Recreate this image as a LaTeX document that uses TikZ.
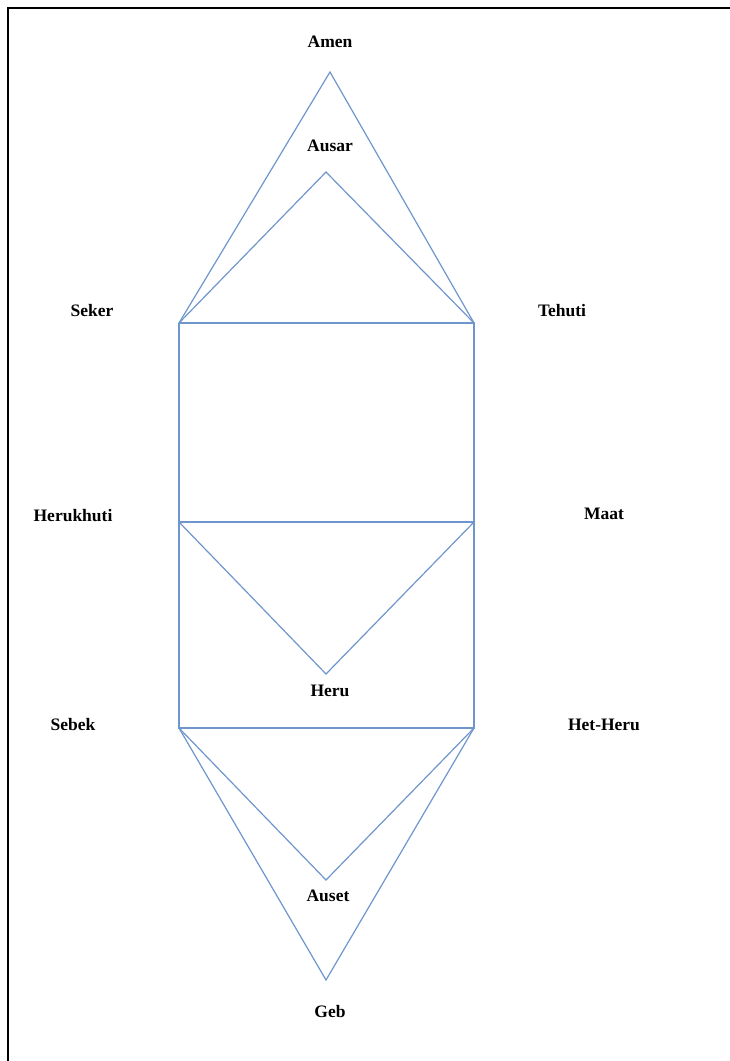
\documentclass[tikz,border=0pt]{standalone}
\usepackage{fontspec}
\setmainfont{Liberation Serif}
\begin{document}
\begin{tikzpicture}[x=1pt,y=-1pt,
  lbl/.style={font=\fontsize{17.5}{20}\selectfont\bfseries, inner sep=0pt},
  edge/.style={draw={rgb,255:red,110;green,150;blue,205}, line width=1.2pt}]
\useasboundingbox (0,0) rectangle (730,1061);
\draw[line width=2.4pt] (8,1061) -- (8,8) -- (730,8);
% corner points
\coordinate (amenP) at (330,72);
\coordinate (ausarP) at (326,172);
\coordinate (sekerP) at (179,323);
\coordinate (tehutiP) at (474,323);
\coordinate (herukhutiP) at (179,522);
\coordinate (maatP) at (474,522);
\coordinate (heruP) at (326,674);
\coordinate (sebekP) at (179,728);
\coordinate (hetheruP) at (474,728);
\coordinate (ausetP) at (326,880);
\coordinate (gebP) at (326,980);
% labels
\node[lbl] (amen) at (330,42) {Amen};
\node[lbl] (ausar) at (330,146) {Ausar};
\node[lbl] (seker) at (92,311) {Seker};
\node[lbl] (tehuti) at (562,311) {Tehuti};
\node[lbl] (herukhuti) at (73,516) {Herukhuti};
\node[lbl] (maat) at (604,514) {Maat};
\node[lbl] (heru) at (330,691) {Heru};
\node[lbl] (sebek) at (73,725) {Sebek};
\node[lbl] (hetheru) at (604,725) {Het-Heru};
\node[lbl] (auset) at (328,896) {Auset};
\node[lbl] (geb) at (330,1012) {Geb};
% edges
\draw[edge] (sekerP) -- (amenP) -- (tehutiP);
\draw[edge] (sekerP) -- (ausarP) -- (tehutiP);
\draw[edge] (sekerP) -- (tehutiP) -- (maatP) -- (hetheruP) -- (sebekP) -- (herukhutiP) -- (sekerP);
\draw[edge] (herukhutiP) -- (maatP);
\draw[edge] (herukhutiP) -- (heruP) -- (maatP);
\draw[edge] (sebekP) -- (ausetP) -- (hetheruP);
\draw[edge] (sebekP) -- (gebP) -- (hetheruP);
\end{tikzpicture}
\end{document}
